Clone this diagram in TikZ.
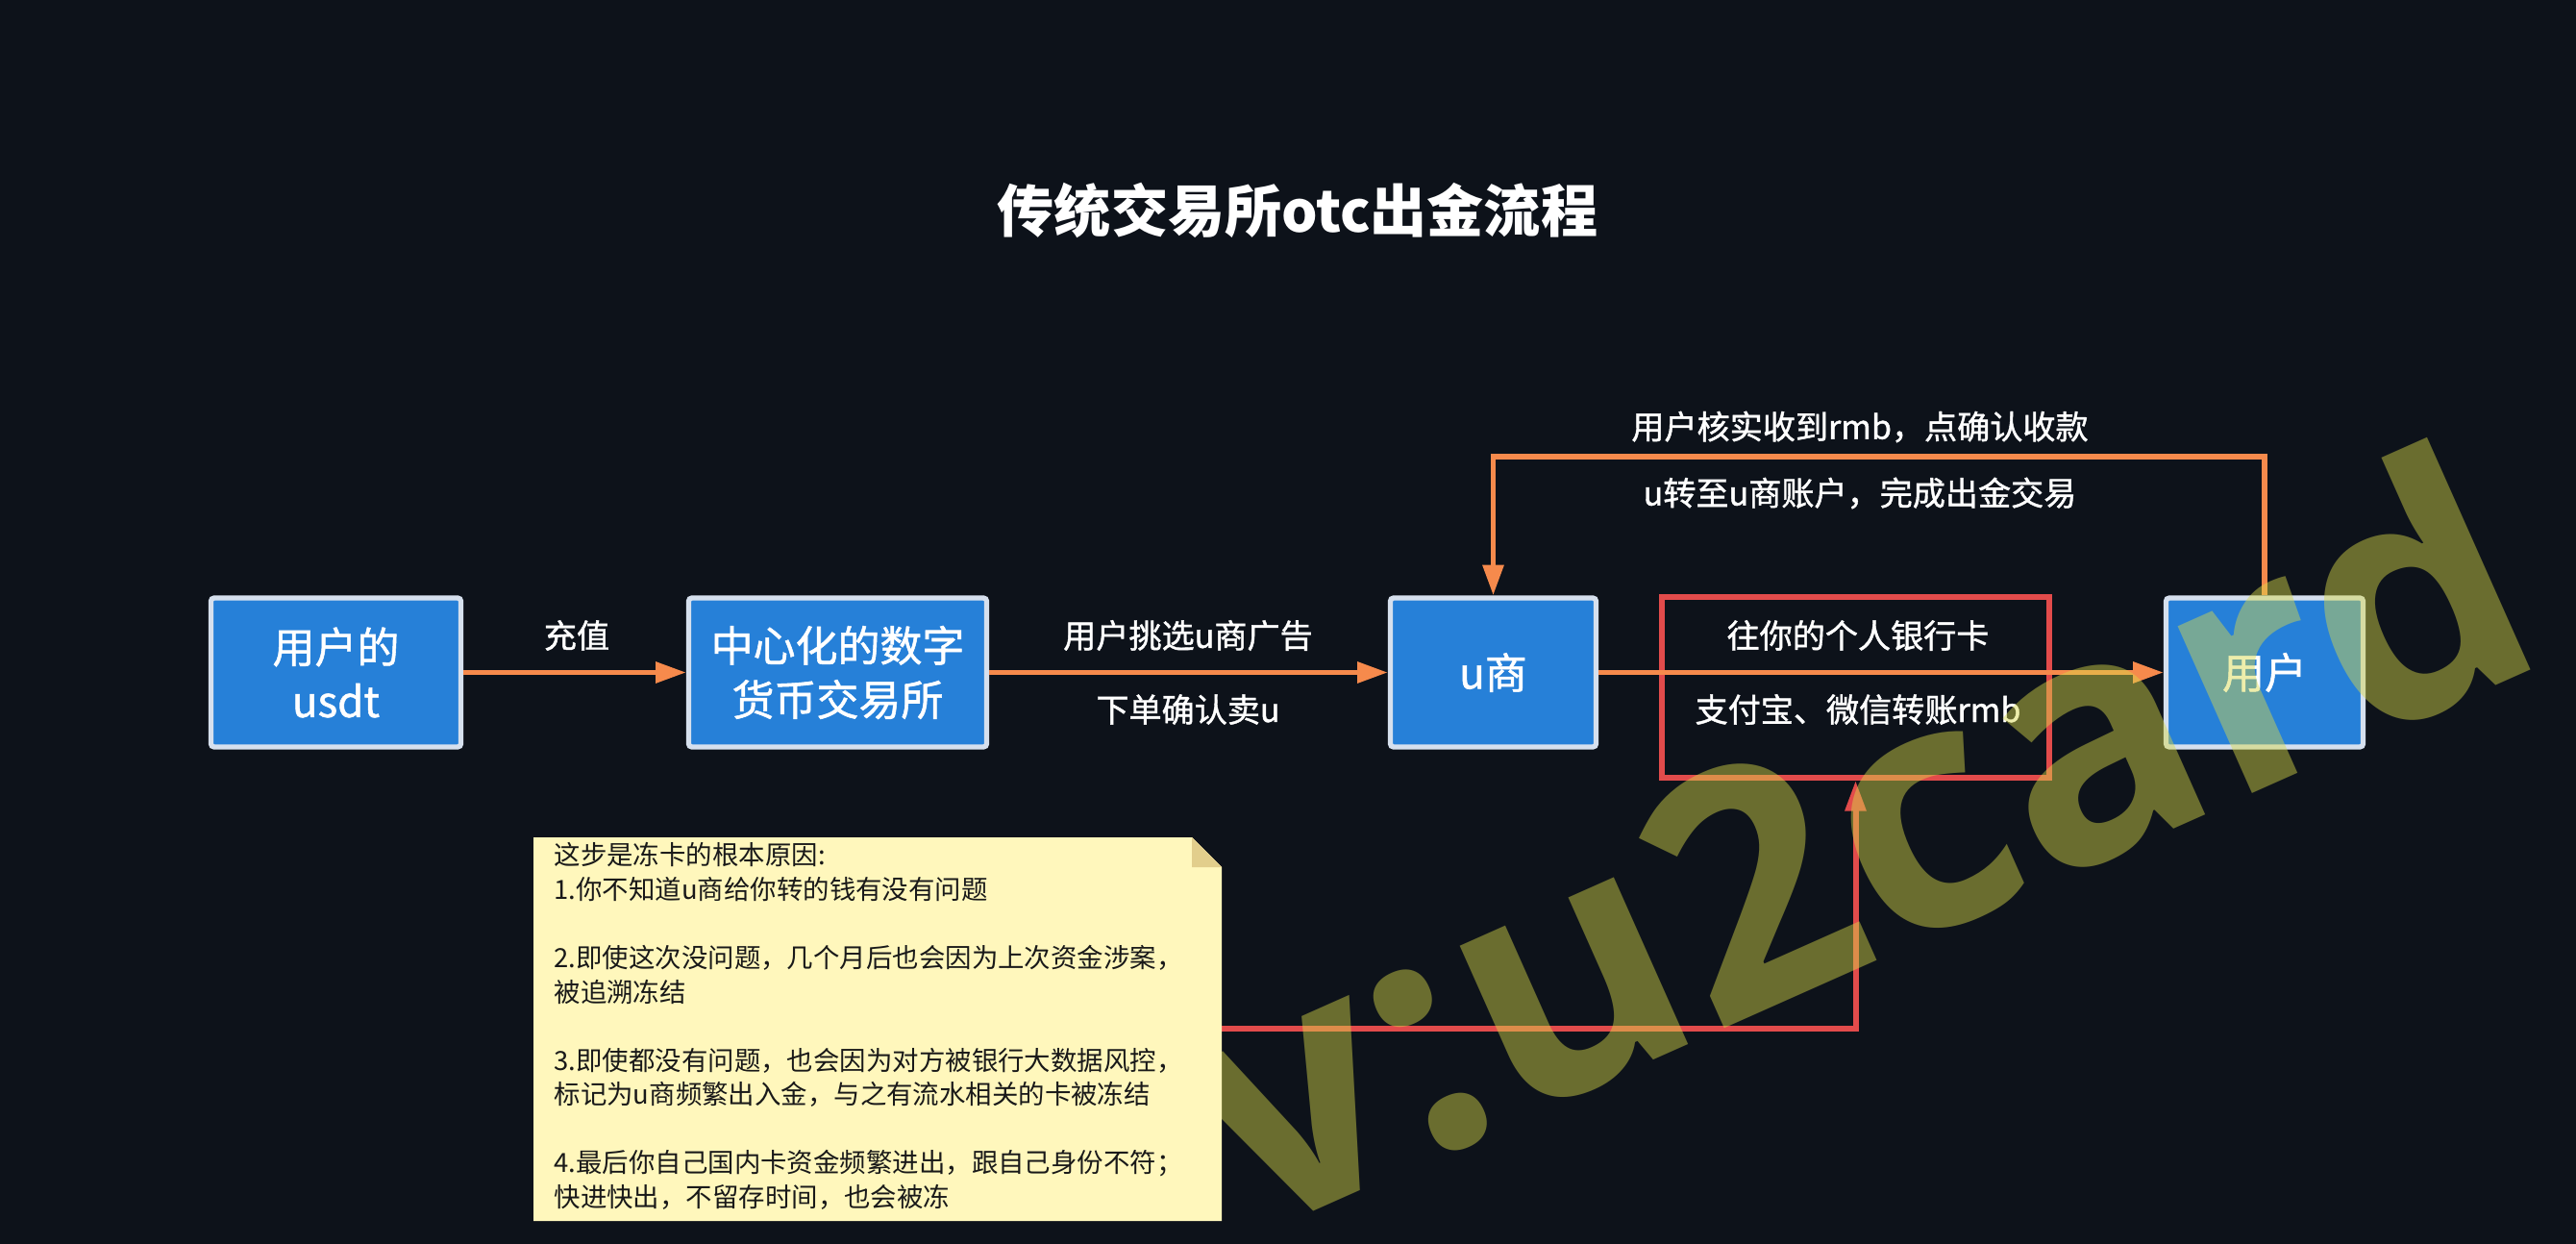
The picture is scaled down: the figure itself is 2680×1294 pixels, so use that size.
\documentclass[tikz,border=0pt]{standalone}
\usepackage{fontspec}
\setmainfont{Noto Sans CJK SC}
\newfontfamily\medfont{Noto Sans CJK SC}[FakeBold=1.2]
\newfontfamily\wmfont{Open Sans}
\usetikzlibrary{arrows.meta}
\definecolor{bgcol}{RGB}{13,18,26}
\definecolor{boxblue}{RGB}{38,128,216}
\definecolor{boxline}{RGB}{214,224,238}
\definecolor{flowor}{RGB}{246,138,76}
\definecolor{redline}{RGB}{226,75,75}
\definecolor{notefill}{RGB}{255,247,188}
\definecolor{notefold}{RGB}{226,206,140}
\definecolor{notetext}{RGB}{25,25,25}
\definecolor{wmcol}{RGB}{216,217,73}
\begin{document}
\begin{tikzpicture}[x=0.01cm,y=-0.01cm,
  box/.style={draw=boxline,line width=1.5pt,fill=boxblue,rounded corners=1pt,text=white,
    align=center,minimum height=1.55cm,font=\medfont\fontsize{12.5}{16}\selectfont},
  flow/.style={draw=flowor,line width=1.6pt,-{Triangle[length=9pt,width=6pt]}},
  redflow/.style={draw=redline,line width=1.7pt,-{Triangle[length=9pt,width=6pt]}},
  lbl/.style={text=white,font=\medfont\fontsize{9.7}{12}\selectfont}]
\useasboundingbox (0,0) rectangle (2680,1294);
\fill[bgcol] (0,0) rectangle (2680,1294);
% title
\node[text=white,font=\fontsize{16.8}{20}\selectfont\bfseries] (title) at (1350,219) {传统交易所otc出金流程};
% boxes
\node[box,minimum width=2.6cm] (usdt) at (349.5,699.5) {用户的\\usdt};
\node[box,minimum width=3.1cm] (cex) at (871.5,699.5) {中心化的数字\\货币交易所};
\node[box,minimum width=2.14cm] (ushang) at (1553.5,699.5) {u商};
\node[box,minimum width=2.05cm] (user) at (2356,699.5) {用户};
\node[draw=redline,line width=1.7pt,minimum width=4.03cm,minimum height=1.88cm] (bank) at (1930.5,715) {};
% connectors
\draw[flow] (usdt) -- (cex);
\draw[flow] (cex) -- (ushang);
\draw[flow] (ushang) -- (user);
\coordinate (loop) at (1955,475);
\draw[flow] (user.north) |- (loop) -| (ushang.north);
% labels
\node[lbl] (topup) at (600,661) {充值};
\node[lbl] (pick) at (1236,661) {用户挑选u商广告};
\node[lbl] (order) at (1236,738) {下单确认卖u};
\node[lbl] (bankcard) at (1933,661) {往你的个人银行卡};
\node[lbl] (alipay) at (1933,738) {支付宝、微信转账rmb};
\node[lbl] (confirm) at (1935,444) {用户核实收到rmb，点确认收款};
\node[lbl] (done) at (1935,513) {u转至u商账户，完成出金交易};
\coordinate (noteout) at (1271,1070);
\draw[redflow] (noteout) -| (bank.south);
% watermark
\node[rotate=24,anchor=base west,inner sep=0,text=wmcol,text opacity=0.46,
  font=\wmfont\bfseries\fontsize{99}{99}\selectfont] (wm) at (1300,1290) {v:u2card};
% note
\fill[notefill] (555,871) -- (1240,871) -- (1271,902) -- (1271,1270) -- (555,1270) -- cycle;
\fill[notefold] (1240,871) -- (1271,902) -- (1240,902) -- cycle;
\node[anchor=north west,inner sep=0,align=left,text=notetext,
  font=\fontsize{7.8}{10.1}\selectfont] (note) at (576,876) {这步是冻卡的根本原因:\\
1.你不知道u商给你转的钱有没有问题\\[10.1pt]
2.即使这次没问题，几个月后也会因为上次资金涉案，\\
被追溯冻结\\[10.1pt]
3.即使都没有问题，也会因为对方被银行大数据风控，\\
标记为u商频繁出入金，与之有流水相关的卡被冻结\\[10.1pt]
4.最后你自己国内卡资金频繁进出，跟自己身份不符；\\
快进快出，不留存时间，也会被冻};
\end{tikzpicture}
\end{document}
